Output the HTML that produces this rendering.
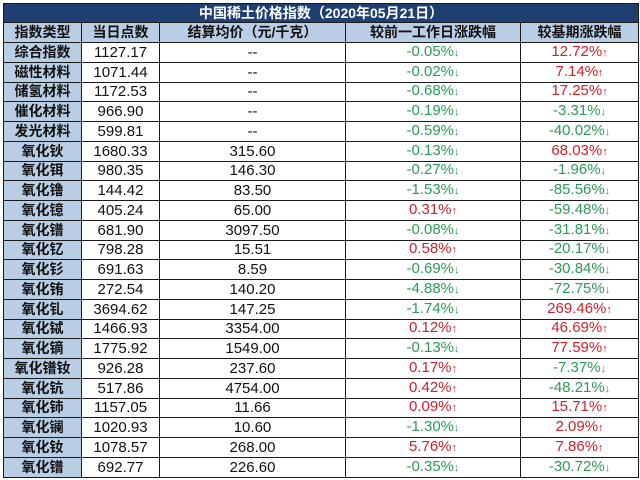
<!DOCTYPE html>
<html><head><meta charset="utf-8">
<style>
body{margin:0;width:640px;height:480px;background:#fff;overflow:hidden;font-family:"Liberation Sans","Noto Sans CJK SC",sans-serif;}
table{position:absolute;left:3px;top:3px;width:635px;border-collapse:collapse;table-layout:fixed;}
td{border:1.5px solid #1a1a1a;padding:0;text-align:center;font-size:15px;line-height:15px;color:#111;white-space:nowrap;overflow:hidden;}
tr{height:19.75px;}
.title{height:19px;}
.title td{background:#1f3f73;color:#fff;font-weight:bold;font-size:14px;}
.hdr{height:20px;}
.hdr td{background:#b9cde5;font-weight:bold;font-size:14px;}
td.k{background:#b9cde5;font-weight:bold;font-size:14px;}
.g{color:#2e9a5a}.r{color:#d0202a}
.a{font-size:11px}
</style></head><body>
<table>
<colgroup><col style="width:78px"><col style="width:78px"><col style="width:186px"><col style="width:175px"><col style="width:118px"></colgroup>
<tr class="title"><td colspan="5">中国稀土价格指数（2020年05月21日）</td></tr>
<tr class="hdr"><td>指数类型</td><td>当日点数</td><td>结算均价（元/千克）</td><td>较前一工作日涨跌幅</td><td>较基期涨跌幅</td></tr>
<tbody id="tb"></tbody>
</table>
<script>
const names=["综合指数","磁性材料","储氢材料","催化材料","发光材料","氧化钬","氧化铒","氧化镥","氧化镱","氧化镨","氧化钇","氧化钐","氧化铕","氧化钆","氧化铽","氧化镝","氧化镨钕","氧化钪","氧化铈","氧化镧","氧化钕","氧化镨"];
const points=["1127.17","1071.44","1172.53","966.90","599.81","1680.33","980.35","144.42","405.24","681.90","798.28","691.63","272.54","3694.62","1466.93","1775.92","926.28","517.86","1157.05","1020.93","1078.57","692.77"];
const prices=["--","--","--","--","--","315.60","146.30","83.50","65.00","3097.50","15.51","8.59","140.20","147.25","3354.00","1549.00","237.60","4754.00","11.66","10.60","268.00","226.60"];
const daily=[-0.05,-0.02,-0.68,-0.19,-0.59,-0.13,-0.27,-1.53,0.31,-0.08,0.58,-0.69,-4.88,-1.74,0.12,-0.13,0.17,0.42,0.09,-1.30,5.76,-0.35];
const base=[12.72,7.14,17.25,-3.31,-40.02,68.03,-1.96,-85.56,-59.48,-31.81,-20.17,-30.84,-72.75,269.46,46.69,77.59,-7.37,-48.21,15.71,2.09,7.86,-30.72];
const tb=document.getElementById('tb');
function pct(v){const s=v.toFixed(2)+'%';return '<span class="'+(v<0?'g':'r')+'">'+s+'<span class="a">'+(v<0?'↓':'↑')+'</span></span>';}
names.forEach((n,i)=>{
  const tr=document.createElement('tr');
  
  
  const cells=[n,points[i],prices[i],pct(daily[i]),pct(base[i])];
  const cn=['type','points','price','daily-change','base-change'];
  cells.forEach((c,j)=>{
    const td=document.createElement('td');
    
    
    if(j===0)td.className='k';
    td.innerHTML=c;
    tr.appendChild(td);
  });
  tb.appendChild(tr);
});
</script>
</body></html>
